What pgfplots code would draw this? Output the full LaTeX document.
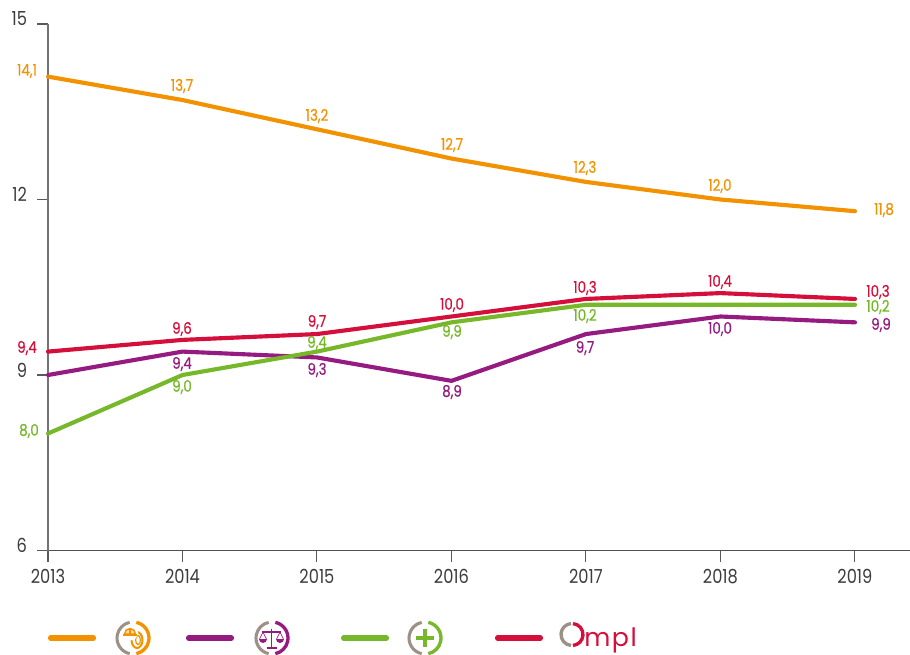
\documentclass[border=0pt]{standalone}
\usepackage{pgfplots}
\pgfplotsset{compat=1.18}
\usepackage{fontspec}
\setmainfont[FakeStretch=0.84]{Poppins}
\newfontfamily\lb[FakeStretch=0.84,FakeBold=0.55]{Poppins}
\newfontfamily\om[LetterSpace=6]{Poppins}
\definecolor{oo}{HTML}{F39200}
\definecolor{pp}{HTML}{951B81}
\definecolor{gg}{HTML}{76B82A}
\definecolor{rr}{HTML}{D40F3C}
\definecolor{gy}{HTML}{9D9087}
\definecolor{tx}{HTML}{3C3C3B}
\newcommand{\lab}[4]{\node[text=#1,font=\lb\fontsize{12}{12}\selectfont,inner sep=0pt,anchor=center] at (#2,#3) {#4};}
\begin{document}
\begin{tikzpicture}[x=0.75pt,y=-0.75pt]
\path[use as bounding box] (0,0) rectangle (910,654);
\begin{axis}[
  at={(36pt,-412.875pt)},anchor=origin,
  scale only axis,width=646.5pt,height=394.9pt,
  xmin=2013,xmax=2019.409,ymin=6,ymax=15,
  axis x line*=bottom,axis y line*=left,
  axis line style={-,line width=0.8pt},
  x axis line style={color=tx!90},y axis line style={color=black!55},
  xtick={2013,...,2019},ytick={6,9,12,15},
  tick align=outside,major tick length=8.25pt,
  tick style={line width=0.8pt,color=tx!85},
  x tick label style={/pgf/number format/.cd,1000 sep={},assume math mode=true,/tikz/yshift=-2.5pt},
  y tick label style={/pgf/number format/assume math mode=true,yshift=3.75pt,xshift=-4pt},
  tick label style={font=\fontsize{14.5}{14.5}\selectfont,text=tx},
  clip=false,
  every axis plot/.append style={line width=3.1pt,line cap=round,line join=round,no markers}
]
\addplot[oo] coordinates {(2013,14.1)(2014,13.7)(2015,13.2)(2016,12.7)(2017,12.3)(2018,12.0)(2019,11.8)};
\addplot[pp] coordinates {(2013,9.0)(2014,9.4)(2015,9.3)(2016,8.9)(2017,9.7)(2018,10.0)(2019,9.9)};
\addplot[gg] coordinates {(2013,8.0)(2014,9.0)(2015,9.4)(2016,9.9)(2017,10.2)(2018,10.2)(2019,10.2)};
\addplot[rr] coordinates {(2013,9.4)(2014,9.6)(2015,9.7)(2016,10.0)(2017,10.3)(2018,10.4)(2019,10.3)};
\end{axis}
% value labels
\lab{oo}{27}{71}{14,1}\lab{oo}{182}{86}{13,7}\lab{oo}{317}{116}{13,2}\lab{oo}{452}{145}{12,7}\lab{oo}{585}{168}{12,3}\lab{oo}{720}{186}{12,0}\lab{oo}{884}{210}{11,8}
\lab{rr}{27}{348}{9,4}\lab{rr}{182}{329}{9,6}\lab{rr}{317}{322}{9,7}\lab{rr}{452}{305}{10,0}\lab{rr}{585}{288}{10,3}\lab{rr}{720}{282}{10,4}\lab{rr}{878}{292}{10,3}
\lab{gg}{29}{431}{8,0}\lab{gg}{182}{387}{9,0}\lab{gg}{317}{343}{9,4}\lab{gg}{452}{332}{9,9}\lab{gg}{585}{316}{10,2}\lab{gg}{878}{307}{10,2}
\lab{pp}{182}{364}{9,4}\lab{pp}{317}{370}{9,3}\lab{pp}{452}{392}{8,9}\lab{pp}{585}{348}{9,7}\lab{pp}{720}{329}{10,0}\lab{pp}{881}{325}{9,9}
% legend keys
\foreach \c/\a in {oo/48,pp/186,gg/341,rr/495}{
  \draw[\c,line width=3.8pt,line cap=round] (\a+2.5,638) -- (\a+45.5,638);
}
% legend icons
\foreach \c/\a in {oo/133,pp/272,gg/425}{
  \draw[gy,line width=2.3pt] (\a,638) ++(102:16) arc[start angle=102,end angle=258,radius=16];
  \draw[\c,line width=2.5pt] (\a,638) ++(-78:16) arc[start angle=-78,end angle=78,radius=16];
}
% orange: tyre and helmet
\draw[oo,line width=1.5pt] (137,640) ellipse[x radius=5.5,y radius=8];
\draw[oo,line width=.9pt] (138,640) ellipse[x radius=2.4,y radius=4.6];
\fill[white] (130,632.5) circle[radius=8];
\draw[oo,line width=1pt,fill=oo!35] (124.5,634) arc[start angle=180,end angle=360,radius=5.5] -- cycle;
\draw[oo,line width=1.1pt] (123,635) -- (137,635) (130,628.5) -- (130,634);
% purple: scales
\draw[pp,line width=1.4pt] (271.5,628.5) -- (271.5,648) (266.5,648.3) -- (276.5,648.3) (262,632) -- (281,632);
\draw[pp,line width=.5pt] (263,632) -- (259.5,639) (263,632) -- (266.5,639) (280,632) -- (276.5,639) (280,632) -- (283.5,639);
\fill[pp] (259,639) arc[start angle=180,end angle=0,radius=4] -- cycle;
\fill[pp] (276,639) arc[start angle=180,end angle=0,radius=4] -- cycle;
% green: plus
\draw[gg,line width=2.6pt] (416,638) -- (434,638) (425,629) -- (425,647);
% Ompl
\draw[gy,line width=2.5pt] (572,634.5) ++(95:11) arc[start angle=95,end angle=265,radius=11];
\draw[rr,line width=2.5pt] (572,634.5) ++(-85:11) arc[start angle=-85,end angle=85,radius=11];
\node[text=rr,font=\om\fontsize{19}{19}\selectfont,inner sep=0pt,anchor=base west] at (584,646) {mpl};
\end{tikzpicture}
\end{document}
